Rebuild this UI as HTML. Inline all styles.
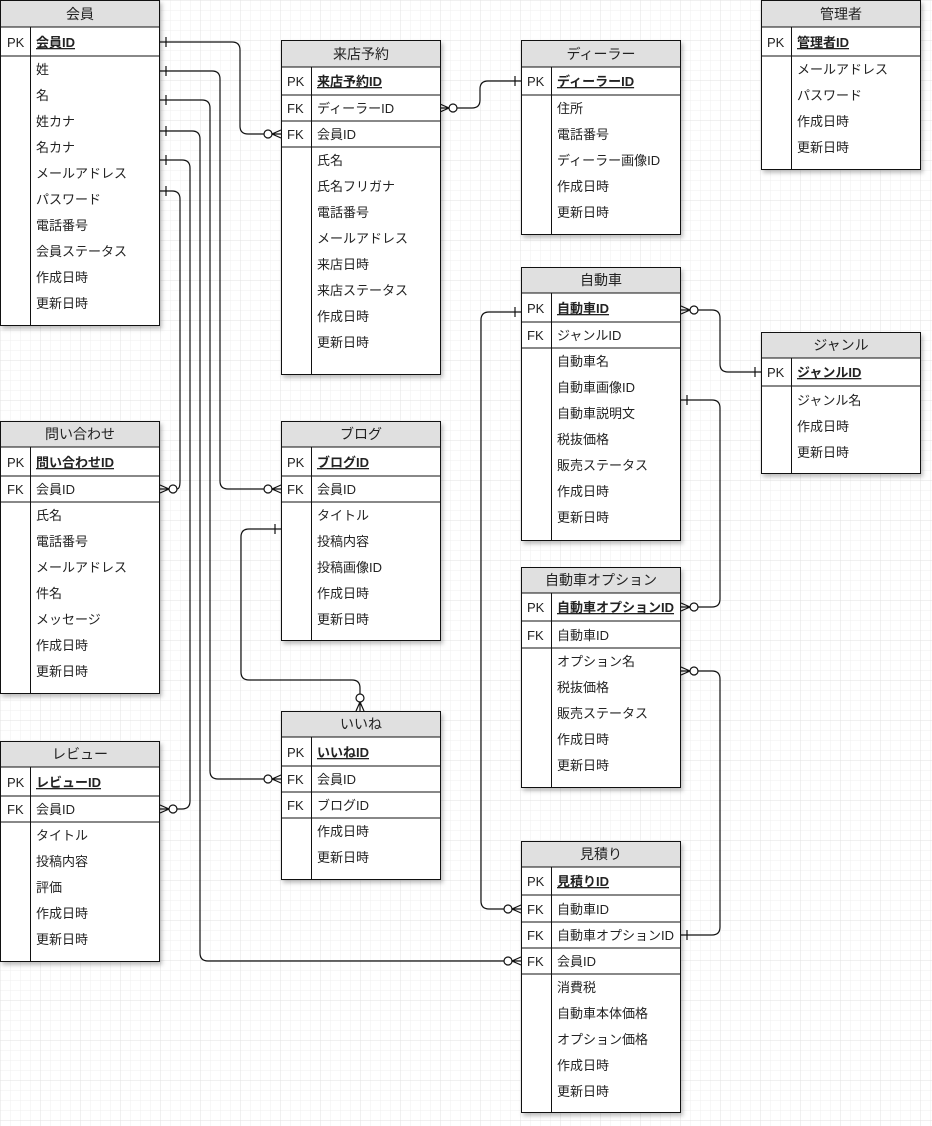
<!DOCTYPE html>
<html><head><meta charset="utf-8"><style>
html,body{margin:0;padding:0;background:#fff}
svg{display:block}
text{font-family:"Liberation Sans","Noto Sans CJK JP",sans-serif;font-size:13px;fill:#222}
.h{font-size:14px;text-anchor:middle}
.pk{font-weight:bold;text-decoration:underline}
.t{filter:drop-shadow(2px 3px 2px rgba(0,0,0,0.25))}
.c{fill:none;stroke:#111;stroke-width:1.2}
</style></head><body>
<svg width="932" height="1126" viewBox="0 0 932 1126" xmlns="http://www.w3.org/2000/svg">
<defs>
<pattern id="g1" width="10" height="10" patternUnits="userSpaceOnUse"><path d="M10 0H0V10" fill="none" stroke="#efefef" stroke-width="1"/></pattern>
<pattern id="g2" width="40" height="40" patternUnits="userSpaceOnUse"><rect width="40" height="40" fill="url(#g1)"/><path d="M40 0H0V40" fill="none" stroke="#e2e2e2" stroke-width="1"/></pattern>
</defs>
<rect width="932" height="1126" fill="url(#g2)"/>

<!-- connectors -->
<g class="c">
<path d="M160,42 H232 Q240,42 240,50 V126 Q240,134 248,134 H264"/>
<path d="M160,71 H212 Q220,71 220,79 V481 Q220,489 228,489 H264"/>
<path d="M160,100 H202 Q210,100 210,108 V771 Q210,779 218,779 H264"/>
<path d="M160,131 H192 Q200,131 200,139 V953 Q200,961 208,961 H504"/>
<path d="M160,160 H182 Q190,160 190,168 V801 Q190,809 182,809 H177"/>
<path d="M160,191 H172 Q180,191 180,199 V481 Q180,489 177,489"/>
<path d="M457,108 H472 Q480,108 480,100 V89 Q480,81 488,81 H521"/>
<path d="M698,310 H712 Q720,310 720,318 V364 Q720,372 728,372 H761"/>
<path d="M681,400 H712 Q720,400 720,408 V599 Q720,607 712,607 H698"/>
<path d="M521,312 H489 Q481,312 481,320 V901 Q481,909 489,909 H504"/>
<path d="M698,671 H712 Q720,671 720,679 V927 Q720,935 712,935 H681"/>
<path d="M281,529 H249 Q241,529 241,537 V672 Q241,680 249,680 H352 Q360,680 360,688 V694"/>
<!-- bars -->
<path d="M166,37V47 M166,66V76 M166,95V105 M166,126V136 M166,155V165 M166,186V196"/>
<path d="M515,76V86 M755,367V377 M687,395V405 M515,307V317 M687,930V940 M275,524V534"/>
<!-- crows -->
<path d="M281,130L272,134L281,138M281,134H272"/>
<path d="M281,485L272,489L281,493M281,489H272"/>
<path d="M281,775L272,779L281,783M281,779H272"/>
<path d="M521,957L512,961L521,965M521,961H512"/>
<path d="M160,805L169,809L160,813M160,809H169"/>
<path d="M160,485L169,489L160,493M160,489H169"/>
<path d="M440,104L449,108L440,112M440,108H449"/>
<path d="M681,306L690,310L681,314M681,310H690"/>
<path d="M681,603L690,607L681,611M681,607H690"/>
<path d="M521,905L512,909L521,913M521,909H512"/>
<path d="M681,667L690,671L681,675M681,671H690"/>
<path d="M356,711L360,702L364,711M360,711V702"/>
</g>
<g fill="#fff" stroke="#111" stroke-width="1.2">
<circle cx="268" cy="134" r="4"/><circle cx="268" cy="489" r="4"/><circle cx="268" cy="779" r="4"/>
<circle cx="508" cy="961" r="4"/><circle cx="173" cy="809" r="4"/><circle cx="173" cy="489" r="4"/>
<circle cx="453" cy="108" r="4"/><circle cx="694" cy="310" r="4"/><circle cx="694" cy="607" r="4"/>
<circle cx="508" cy="909" r="4"/><circle cx="694" cy="671" r="4"/><circle cx="360" cy="698" r="4"/>
</g>

<!-- tables -->
<g stroke="#111" stroke-width="1">
<g class="t"><rect x="0.5" y="0.5" width="159" height="325" fill="#fff"/></g>
<rect x="0.5" y="0.5" width="159" height="26.5" fill="#e0e0e0"/>
<path d="M0,56H160M30.5,27V326" fill="none"/>

<g class="t"><rect x="281.5" y="40.5" width="159" height="334" fill="#fff"/></g>
<rect x="281.5" y="40.5" width="159" height="26.5" fill="#e0e0e0"/>
<path d="M281,95H441M281,121H441M281,147H441M311.5,67V375" fill="none"/>

<g class="t"><rect x="521.5" y="40.5" width="159" height="194" fill="#fff"/></g>
<rect x="521.5" y="40.5" width="159" height="26.5" fill="#e0e0e0"/>
<path d="M521,95H681M551.5,67V235" fill="none"/>

<g class="t"><rect x="761.5" y="0.5" width="159" height="169" fill="#fff"/></g>
<rect x="761.5" y="0.5" width="159" height="26.5" fill="#e0e0e0"/>
<path d="M761,56H921M791.5,27V170" fill="none"/>

<g class="t"><rect x="521.5" y="267.5" width="159" height="273" fill="#fff"/></g>
<rect x="521.5" y="267.5" width="159" height="25.5" fill="#e0e0e0"/>
<path d="M521,322H681M521,348H681M551.5,293V541" fill="none"/>

<g class="t"><rect x="761.5" y="332.5" width="159" height="141" fill="#fff"/></g>
<rect x="761.5" y="332.5" width="159" height="25.5" fill="#e0e0e0"/>
<path d="M761,386H921M791.5,358V474" fill="none"/>

<g class="t"><rect x="0.5" y="421.5" width="159" height="272" fill="#fff"/></g>
<rect x="0.5" y="421.5" width="159" height="25.5" fill="#e0e0e0"/>
<path d="M0,476H160M0,502H160M30.5,447V694" fill="none"/>

<g class="t"><rect x="281.5" y="421.5" width="159" height="219" fill="#fff"/></g>
<rect x="281.5" y="421.5" width="159" height="25.5" fill="#e0e0e0"/>
<path d="M281,476H441M281,502H441M311.5,447V641" fill="none"/>

<g class="t"><rect x="281.5" y="711.5" width="159" height="168" fill="#fff"/></g>
<rect x="281.5" y="711.5" width="159" height="25.5" fill="#e0e0e0"/>
<path d="M281,766H441M281,792H441M281,818H441M311.5,737V880" fill="none"/>

<g class="t"><rect x="0.5" y="741.5" width="159" height="220" fill="#fff"/></g>
<rect x="0.5" y="741.5" width="159" height="25.5" fill="#e0e0e0"/>
<path d="M0,796H160M0,822H160M30.5,767V962" fill="none"/>

<g class="t"><rect x="521.5" y="567.5" width="159" height="220" fill="#fff"/></g>
<rect x="521.5" y="567.5" width="159" height="25.5" fill="#e0e0e0"/>
<path d="M521,621H681M521,648H681M551.5,593V788" fill="none"/>

<g class="t"><rect x="521.5" y="841.5" width="159" height="271" fill="#fff"/></g>
<rect x="521.5" y="841.5" width="159" height="25.5" fill="#e0e0e0"/>
<path d="M521,895H681M521,922H681M521,948H681M521,974H681M551.5,867V1113" fill="none"/>
</g>

<!-- text: 会員 -->
<text class="h" x="80" y="19">会員</text>
<text x="7" y="47">PK</text><text x="36" y="47" class="pk">会員ID</text>
<text x="36" y="74">姓</text><text x="36" y="100">名</text><text x="36" y="126">姓カナ</text><text x="36" y="152">名カナ</text><text x="36" y="178">メールアドレス</text><text x="36" y="204">パスワード</text><text x="36" y="230">電話番号</text><text x="36" y="256">会員ステータス</text><text x="36" y="282">作成日時</text><text x="36" y="308">更新日時</text>

<!-- 来店予約 -->
<text class="h" x="361" y="59">来店予約</text>
<text x="287" y="86">PK</text><text x="317" y="86" class="pk">来店予約ID</text>
<text x="287" y="113">FK</text><text x="317" y="113">ディーラーID</text>
<text x="287" y="139">FK</text><text x="317" y="139">会員ID</text>
<text x="317" y="165">氏名</text><text x="317" y="191">氏名フリガナ</text><text x="317" y="217">電話番号</text><text x="317" y="243">メールアドレス</text><text x="317" y="269">来店日時</text><text x="317" y="295">来店ステータス</text><text x="317" y="321">作成日時</text><text x="317" y="347">更新日時</text>

<!-- ディーラー -->
<text class="h" x="601" y="59">ディーラー</text>
<text x="527" y="86">PK</text><text x="557" y="86" class="pk">ディーラーID</text>
<text x="557" y="113">住所</text><text x="557" y="139">電話番号</text><text x="557" y="165">ディーラー画像ID</text><text x="557" y="191">作成日時</text><text x="557" y="217">更新日時</text>

<!-- 管理者 -->
<text class="h" x="841" y="19">管理者</text>
<text x="767" y="47">PK</text><text x="797" y="47" class="pk">管理者ID</text>
<text x="797" y="74">メールアドレス</text><text x="797" y="100">パスワード</text><text x="797" y="126">作成日時</text><text x="797" y="152">更新日時</text>

<!-- 自動車 -->
<text class="h" x="601" y="285">自動車</text>
<text x="527" y="313">PK</text><text x="557" y="313" class="pk">自動車ID</text>
<text x="527" y="340">FK</text><text x="557" y="340">ジャンルID</text>
<text x="557" y="366">自動車名</text><text x="557" y="392">自動車画像ID</text><text x="557" y="418">自動車説明文</text><text x="557" y="444">税抜価格</text><text x="557" y="470">販売ステータス</text><text x="557" y="496">作成日時</text><text x="557" y="522">更新日時</text>

<!-- ジャンル -->
<text class="h" x="841" y="350">ジャンル</text>
<text x="767" y="377">PK</text><text x="797" y="377" class="pk">ジャンルID</text>
<text x="797" y="405">ジャンル名</text><text x="797" y="431">作成日時</text><text x="797" y="457">更新日時</text>

<!-- 問い合わせ -->
<text class="h" x="80" y="439">問い合わせ</text>
<text x="7" y="467">PK</text><text x="36" y="467" class="pk">問い合わせID</text>
<text x="7" y="494">FK</text><text x="36" y="494">会員ID</text>
<text x="36" y="520">氏名</text><text x="36" y="546">電話番号</text><text x="36" y="572">メールアドレス</text><text x="36" y="598">件名</text><text x="36" y="624">メッセージ</text><text x="36" y="650">作成日時</text><text x="36" y="676">更新日時</text>

<!-- ブログ -->
<text class="h" x="361" y="439">ブログ</text>
<text x="287" y="467">PK</text><text x="317" y="467" class="pk">ブログID</text>
<text x="287" y="494">FK</text><text x="317" y="494">会員ID</text>
<text x="317" y="520">タイトル</text><text x="317" y="546">投稿内容</text><text x="317" y="572">投稿画像ID</text><text x="317" y="598">作成日時</text><text x="317" y="624">更新日時</text>

<!-- いいね -->
<text class="h" x="361" y="729">いいね</text>
<text x="287" y="757">PK</text><text x="317" y="757" class="pk">いいねID</text>
<text x="287" y="784">FK</text><text x="317" y="784">会員ID</text>
<text x="287" y="810">FK</text><text x="317" y="810">ブログID</text>
<text x="317" y="836">作成日時</text><text x="317" y="862">更新日時</text>

<!-- レビュー -->
<text class="h" x="80" y="759">レビュー</text>
<text x="7" y="787">PK</text><text x="36" y="787" class="pk">レビューID</text>
<text x="7" y="814">FK</text><text x="36" y="814">会員ID</text>
<text x="36" y="840">タイトル</text><text x="36" y="866">投稿内容</text><text x="36" y="892">評価</text><text x="36" y="918">作成日時</text><text x="36" y="944">更新日時</text>

<!-- 自動車オプション -->
<text class="h" x="601" y="585">自動車オプション</text>
<text x="527" y="612">PK</text><text x="557" y="612" class="pk">自動車オプションID</text>
<text x="527" y="640">FK</text><text x="557" y="640">自動車ID</text>
<text x="557" y="666">オプション名</text><text x="557" y="692">税抜価格</text><text x="557" y="718">販売ステータス</text><text x="557" y="744">作成日時</text><text x="557" y="770">更新日時</text>

<!-- 見積り -->
<text class="h" x="601" y="859">見積り</text>
<text x="527" y="886">PK</text><text x="557" y="886" class="pk">見積りID</text>
<text x="527" y="914">FK</text><text x="557" y="914">自動車ID</text>
<text x="527" y="940">FK</text><text x="557" y="940">自動車オプションID</text>
<text x="527" y="966">FK</text><text x="557" y="966">会員ID</text>
<text x="557" y="992">消費税</text><text x="557" y="1018">自動車本体価格</text><text x="557" y="1044">オプション価格</text><text x="557" y="1070">作成日時</text><text x="557" y="1096">更新日時</text>
</svg>
</body></html>
